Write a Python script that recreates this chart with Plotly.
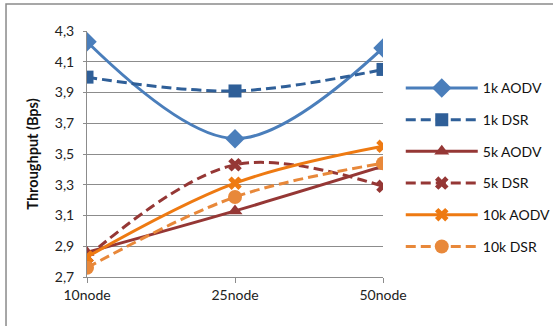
import plotly.graph_objects as go

# Network sizes on the x axis
nodes = ["10node", "25node", "50node"]

# Throughput (Bps) per protocol / traffic load
aodv_1k = [4.23, 3.60, 4.19]
dsr_1k = [4.00, 3.91, 4.05]
aodv_5k = [2.86, 3.13, 3.42]
dsr_5k = [2.83, 3.43, 3.29]
aodv_10k = [2.83, 3.31, 3.55]
dsr_10k = [2.76, 3.22, 3.44]

y_ticks = [2.7, 2.9, 3.1, 3.3, 3.5, 3.7, 3.9, 4.1, 4.3]

FONT = "Lato, 'Noto Sans', sans-serif"
DASH = "10px,5px"

series = [
    ("1k AODV", aodv_1k, "#4A7EBB", "solid", "diamond", 15),
    ("1k DSR", dsr_1k, "#2F5F98", DASH, "square", 13),
    ("5k AODV", aodv_5k, "#953735", "solid", "triangle-up", 13),
    ("5k DSR", dsr_5k, "#953735", DASH, "x", 12),
    ("10k AODV", aodv_10k, "#EE7A12", "solid", "x", 12),
    ("10k DSR", dsr_10k, "#E8883A", DASH, "circle", 14),
]

fig = go.Figure()
for i, (name, vals, color, dash, symbol, size) in enumerate(series):
    fig.add_trace(go.Scatter(
        x=nodes, y=vals, name=name, mode="lines+markers",
        line=dict(color=color, width=3, dash=dash, shape="spline", smoothing=1),
        marker=dict(color=color, symbol=symbol, size=size, line=dict(width=0)),
        legendgroup=f"g{i}",
    ))

fig.update_layout(
    width=553, height=326,
    margin=dict(l=87, r=170, t=31, b=49, autoexpand=False),
    paper_bgcolor="white", plot_bgcolor="white",
    separators=", ",
    font=dict(family=FONT, size=14, color="#222222"),
    showlegend=True,
    legend=dict(
        x=1.06, xanchor="left", y=0.832, yanchor="top",
        font=dict(family=FONT, size=14, color="#111111"),
        tracegroupgap=10.5, itemwidth=72,
        bgcolor="rgba(0,0,0,0)",
    ),
    xaxis=dict(
        type="category", range=[0, 2],
        showgrid=False, showline=True, linecolor="#8C8C8C", linewidth=1,
        ticks="outside", ticklen=5, tickcolor="#8C8C8C",
        tickfont=dict(family=FONT, size=14, color="#222222"),
        zeroline=False,
    ),
    yaxis=dict(
        range=[2.7, 4.3], tickvals=y_ticks, tickformat=".1f",
        showgrid=True, gridcolor="#8C8C8C", gridwidth=1,
        showline=True, linecolor="#8C8C8C", linewidth=1,
        ticks="outside", ticklen=3, tickcolor="#8C8C8C",
        ticklabelstandoff=6,
        tickfont=dict(family=FONT, size=14, color="#222222"),
        zeroline=False,
        title=dict(text="<b>Throughput (Bps)</b>", font=dict(family=FONT, size=14.5, color="#111111"), standoff=12),
    ),
    shapes=[dict(
        type="rect", xref="paper", yref="paper",
        x0=-0.2736, x1=2.0, y0=-1.0, y1=1.1098,
        line=dict(color="#8A8A8A", width=1.5), fillcolor="rgba(0,0,0,0)", layer="below",
    )],
)

fig.write_html("out.html")
